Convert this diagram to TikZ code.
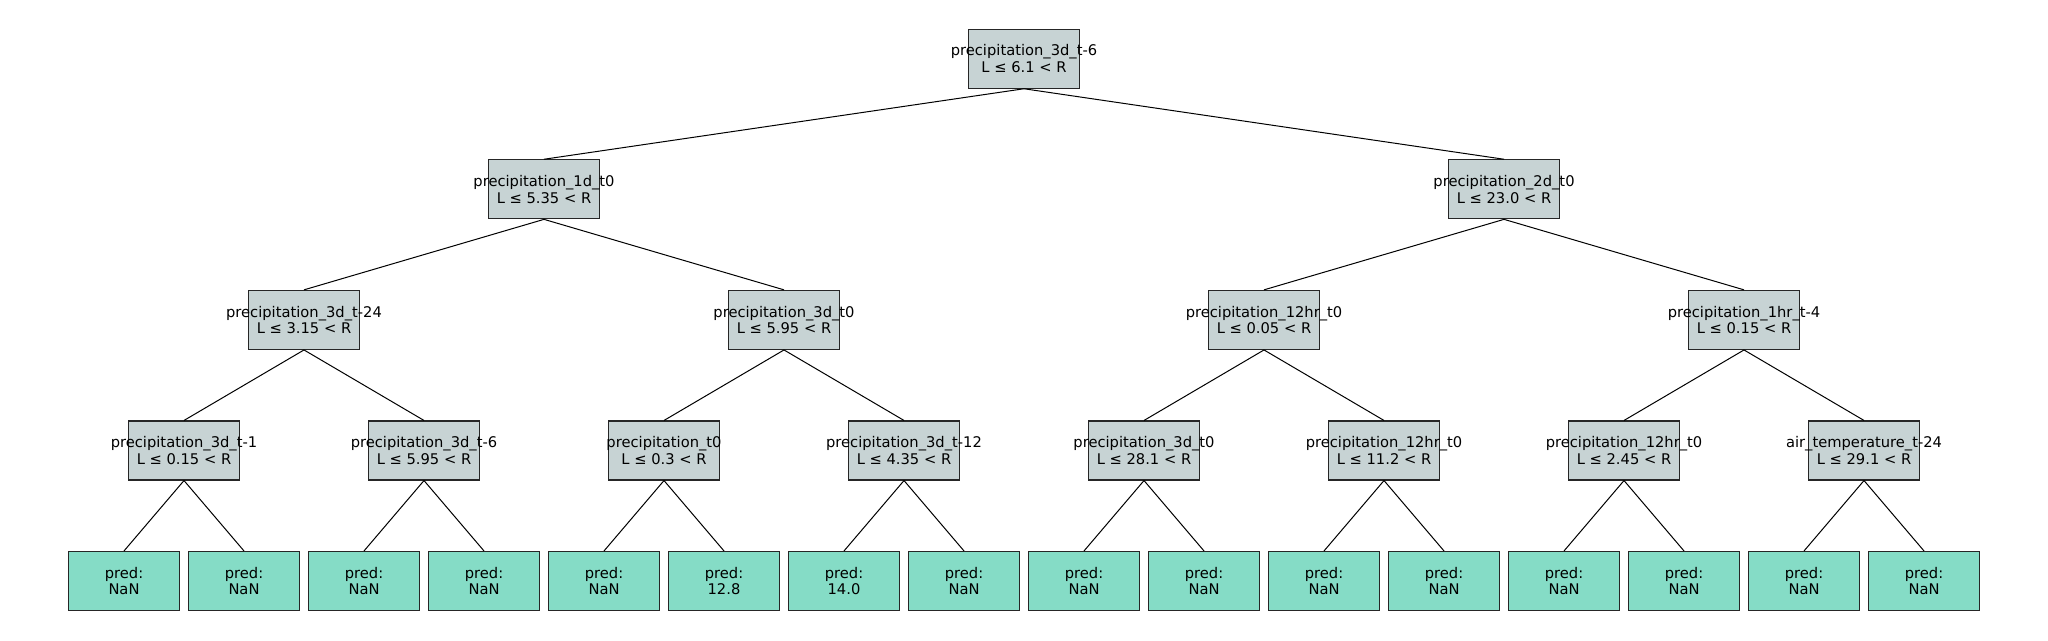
\documentclass[tikz,border=0pt]{standalone}
\usepackage{fontspec}
\setmainfont{DejaVu Sans}
\definecolor{splitgray}{RGB}{199,211,212}
\definecolor{leafgreen}{RGB}{133,220,198}
\tikzset{
 split/.style={draw=black!85,fill=splitgray,line width=1.1pt,minimum width=110.5pt,minimum height=59pt,inner sep=0pt},
 leaf/.style={draw=black!85,fill=leafgreen,line width=1.1pt,minimum width=110.5pt,minimum height=59pt,inner sep=0pt},
 txt/.style={align=center,inner sep=0pt,font=\fontsize{14.7}{16.5}\selectfont},
 edge/.style={line width=1pt}
}
\begin{document}
\begin{tikzpicture}[x=1pt,y=-1pt]
 \useasboundingbox (0,0) rectangle (2048,640);
 \node[split](a) at (1024,58.7){};
 \node[split](b1) at (544,189.3){};
 \node[split](b2) at (1504,189.3){};
 \node[split](c1) at (304,319.9){};
 \node[split](c2) at (784,319.9){};
 \node[split](c3) at (1264,319.9){};
 \node[split](c4) at (1744,319.9){};
 \node[split](d1) at (184,450.5){};
 \node[split](d2) at (424,450.5){};
 \node[split](d3) at (664,450.5){};
 \node[split](d4) at (904,450.5){};
 \node[split](d5) at (1144,450.5){};
 \node[split](d6) at (1384,450.5){};
 \node[split](d7) at (1624,450.5){};
 \node[split](d8) at (1864,450.5){};
 \node[txt] at (a) {precipitation\_3d\_t-6\\L ≤ 6.1 < R};
 \node[txt] at (b1) {precipitation\_1d\_t0\\L ≤ 5.35 < R};
 \node[txt] at (b2) {precipitation\_2d\_t0\\L ≤ 23.0 < R};
 \node[txt] at (c1) {precipitation\_3d\_t-24\\L ≤ 3.15 < R};
 \node[txt] at (c2) {precipitation\_3d\_t0\\L ≤ 5.95 < R};
 \node[txt] at (c3) {precipitation\_12hr\_t0\\L ≤ 0.05 < R};
 \node[txt] at (c4) {precipitation\_1hr\_t-4\\L ≤ 0.15 < R};
 \node[txt] at (d1) {precipitation\_3d\_t-1\\L ≤ 0.15 < R};
 \node[txt] at (d2) {precipitation\_3d\_t-6\\L ≤ 5.95 < R};
 \node[txt] at (d3) {precipitation\_t0\\L ≤ 0.3 < R};
 \node[txt] at (d4) {precipitation\_3d\_t-12\\L ≤ 4.35 < R};
 \node[txt] at (d5) {precipitation\_3d\_t0\\L ≤ 28.1 < R};
 \node[txt] at (d6) {precipitation\_12hr\_t0\\L ≤ 11.2 < R};
 \node[txt] at (d7) {precipitation\_12hr\_t0\\L ≤ 2.45 < R};
 \node[txt] at (d8) {air\_temperature\_t-24\\L ≤ 29.1 < R};
 \node[leaf,txt](e1) at (124,581){pred:\\NaN};
 \node[leaf,txt](e2) at (244,581){pred:\\NaN};
 \node[leaf,txt](e3) at (364,581){pred:\\NaN};
 \node[leaf,txt](e4) at (484,581){pred:\\NaN};
 \node[leaf,txt](e5) at (604,581){pred:\\NaN};
 \node[leaf,txt](e6) at (724,581){pred:\\12.8};
 \node[leaf,txt](e7) at (844,581){pred:\\14.0};
 \node[leaf,txt](e8) at (964,581){pred:\\NaN};
 \node[leaf,txt](e9) at (1084,581){pred:\\NaN};
 \node[leaf,txt](e10) at (1204,581){pred:\\NaN};
 \node[leaf,txt](e11) at (1324,581){pred:\\NaN};
 \node[leaf,txt](e12) at (1444,581){pred:\\NaN};
 \node[leaf,txt](e13) at (1564,581){pred:\\NaN};
 \node[leaf,txt](e14) at (1684,581){pred:\\NaN};
 \node[leaf,txt](e15) at (1804,581){pred:\\NaN};
 \node[leaf,txt](e16) at (1924,581){pred:\\NaN};
 \draw[edge](a.south)--(b1.north);
 \draw[edge](a.south)--(b2.north);
 \draw[edge](b1.south)--(c1.north);
 \draw[edge](b1.south)--(c2.north);
 \draw[edge](b2.south)--(c3.north);
 \draw[edge](b2.south)--(c4.north);
 \draw[edge](c1.south)--(d1.north);
 \draw[edge](c1.south)--(d2.north);
 \draw[edge](c2.south)--(d3.north);
 \draw[edge](c2.south)--(d4.north);
 \draw[edge](c3.south)--(d5.north);
 \draw[edge](c3.south)--(d6.north);
 \draw[edge](c4.south)--(d7.north);
 \draw[edge](c4.south)--(d8.north);
 \draw[edge](d1.south)--(e1.north);
 \draw[edge](d1.south)--(e2.north);
 \draw[edge](d2.south)--(e3.north);
 \draw[edge](d2.south)--(e4.north);
 \draw[edge](d3.south)--(e5.north);
 \draw[edge](d3.south)--(e6.north);
 \draw[edge](d4.south)--(e7.north);
 \draw[edge](d4.south)--(e8.north);
 \draw[edge](d5.south)--(e9.north);
 \draw[edge](d5.south)--(e10.north);
 \draw[edge](d6.south)--(e11.north);
 \draw[edge](d6.south)--(e12.north);
 \draw[edge](d7.south)--(e13.north);
 \draw[edge](d7.south)--(e14.north);
 \draw[edge](d8.south)--(e15.north);
 \draw[edge](d8.south)--(e16.north);
\end{tikzpicture}
\end{document}
